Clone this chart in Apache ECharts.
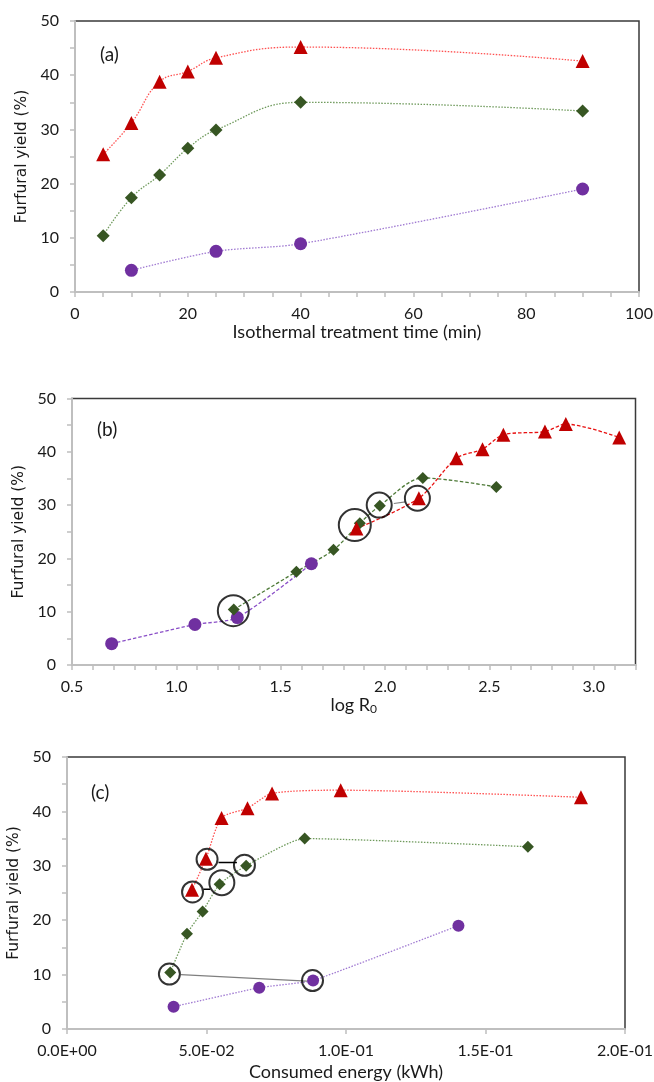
<!DOCTYPE html>
<html>
<head>
<meta charset="utf-8">
<script src="https://cdn.jsdelivr.net/npm/echarts@6/dist/echarts.min.js"></script>
<style>
html,body{margin:0;padding:0;background:#fff;}
#c{width:654px;height:1082px;}
</style>
</head>
<body>
<div id="c"></div>
<script>
// ---------- DATA ----------
// Panel (a): isothermal treatment time (min) vs furfural yield (%)
const timeA = [5, 10, 15, 20, 25, 40, 90];
const yieldRedA = [25.4, 31.2, 38.8, 40.7, 43.2, 45.2, 42.6];
const yieldGreenA = [10.4, 17.4, 21.6, 26.5, 29.9, 35.0, 33.4];
const timePurpleA = [10, 25, 40, 90];
const yieldPurpleA = [4.0, 7.5, 8.9, 19.0];

// Panel (b): log R0 vs furfural yield (%)
const logR0Purple = [0.69, 1.089, 1.292, 1.647];
const yieldPurpleB = [4.0, 7.6, 8.9, 19.0];
const logR0Green = [1.275, 1.575, 1.753, 1.879, 1.975, 2.181, 2.533];
const yieldGreenB = [10.4, 17.5, 21.6, 26.6, 29.9, 35.1, 33.4];
const logR0Red = [1.863, 2.162, 2.342, 2.467, 2.567, 2.766, 2.866, 3.122];
const yieldRedB = [25.6, 31.3, 38.8, 40.5, 43.2, 43.8, 45.2, 42.7];
// highlighted points (b)
const circleXB = [1.273, 1.855, 1.972, 2.155];
const circleYB = [10.2, 26.25, 30.0, 31.3];
const linkB = [[[2.042, 30.3], [2.098, 30.6]]];

// Panel (c): consumed energy (kWh) vs furfural yield (%)
const energyRed = [0.0448, 0.0498, 0.0554, 0.0647, 0.0735, 0.0981, 0.1842];
const yieldRedC = [25.6, 31.3, 38.8, 40.6, 43.3, 43.9, 42.6];
const energyGreen = [0.0370, 0.0430, 0.0486, 0.0547, 0.0642, 0.0852, 0.1652];
const yieldGreenC = [10.4, 17.5, 21.6, 26.6, 30.0, 35.0, 33.5];
const energyPurple = [0.0382, 0.0689, 0.0882, 0.1403];
const yieldPurpleC = [4.1, 7.6, 8.9, 19.0];
// highlighted points (c)
const circleXC = [0.0502, 0.0636, 0.0450, 0.0555, 0.0367, 0.0880];
const circleYC = [31.2, 30.1, 25.2, 26.9, 10.1, 8.9];
const linkCBlack = [[[0.0543, 30.6], [0.0609, 30.6]], [[0.0489, 25.7], [0.0513, 25.7]]];
const linkCGrey = [[[0.0408, 10.0], [0.0860, 8.8]]];

// axis tick labels
const yLabelStep = 10;
const xLabelStepA = 20;
const xLabelStepB = 0.5;

// ---------- STYLE ----------
const RED = '#C00000', GREEN = '#375623', PURPLE = '#7030A0';
const RED_L = '#FF5050', GREEN_L = '#6F9A5C', PURPLE_L = '#A07AD2';
const AXIS_GREY = '#BFBFBF';
const TXT = '#1a1a1a';
const circleSizeB = [31, 32, 25, 25];
const circleSizeC = [21, 21, 21, 25, 21, 21];

const zip = (xs, ys) => xs.map((x, i) => [x, ys[i]]);
const isMult = (v, s) => Math.abs(v / s - Math.round(v / s)) < 1e-6;

function sci(v) {
  const s = Number(v).toExponential(1).split('e');
  const e = parseInt(s[1], 10);
  const sign = e < 0 ? '-' : '+';
  const a = Math.abs(e);
  return s[0] + 'E' + sign + (a < 10 ? '0' + a : '' + a);
}

function yAx(gi, gap) {
  return {
    type: 'value', gridIndex: gi, min: 0, max: 50, interval: 5,
    name: 'Furfural yield (%)', nameLocation: 'middle', nameGap: gap, nameRotate: 90,
    nameTextStyle: {fontFamily: 'DejaVu Sans', fontSize: 15.5, color: TXT},
    axisLine: {show: true, lineStyle: {color: AXIS_GREY, width: 2}},
    axisTick: {show: true, length: 5, inside: false, lineStyle: {color: AXIS_GREY, width: 1.5}},
    splitLine: {show: false},
    axisLabel: {
      margin: 16, fontFamily: 'Lato', fontSize: 16, color: TXT,
      formatter: v => isMult(v, yLabelStep) ? String(Math.round(v)) : ''
    }
  };
}

function xAxBase(gi) {
  return {
    type: 'value', gridIndex: gi, nameLocation: 'middle',
    nameTextStyle: {fontFamily: 'Lato', fontSize: 18, color: TXT},
    axisLine: {show: true, onZero: false, lineStyle: {color: AXIS_GREY, width: 2}},
    axisTick: {show: true, length: 5, lineStyle: {color: AXIS_GREY, width: 1.5}},
    splitLine: {show: false},
    axisLabel: {margin: 14, fontFamily: 'Lato', fontSize: 16, color: TXT, showMaxLabel: true, showMinLabel: true}
  };
}

const xA = Object.assign(xAxBase(0), {
  min: 0, max: 100, interval: 5, name: 'Isothermal treatment time (min)', nameGap: 27
});
xA.axisLabel.formatter = v => isMult(v, xLabelStepA) ? String(Math.round(v)) : '';

const xB = Object.assign(xAxBase(1), {
  min: 0.5, max: 3.2, interval: 0.1, name: '{a|log R}{s|0}', nameGap: 23
});
xB.nameTextStyle = {
  fontFamily: 'Lato', fontSize: 18, color: TXT,
  rich: {a: {fontFamily: 'Lato', fontSize: 18, color: TXT}, s: {fontFamily: 'Lato', fontSize: 12, color: TXT, verticalAlign: 'bottom', padding: [8, 0, 0, 0]}}
};
xB.axisLabel.formatter = v => isMult(v, xLabelStepB) ? v.toFixed(1) : '';

const xC = Object.assign(xAxBase(2), {
  min: 0, max: 0.2, interval: 0.05, name: 'Consumed energy (kWh)', nameGap: 34
});
xC.axisLabel.formatter = v => sci(v);

function lineSeries(xi, data, lineColor, markColor, symbol, size, dash, smooth, width) {
  return {
    type: 'line', xAxisIndex: xi, yAxisIndex: xi, data: data,
    smooth: smooth, symbol: symbol, symbolSize: size, showSymbol: true,
    lineStyle: {color: lineColor, width: width || 1.3, type: dash},
    itemStyle: {color: markColor, borderWidth: 0},
    z: 3, silent: true, animation: false
  };
}

function ringSeries(xi, xs, ys, sizes) {
  return {
    type: 'scatter', xAxisIndex: xi, yAxisIndex: xi,
    data: xs.map((x, i) => ({value: [x, ys[i]], symbolSize: sizes[i]})),
    symbol: 'circle',
    itemStyle: {color: 'rgba(0,0,0,0)', borderColor: '#000', borderWidth: 2},
    z: 5, silent: true, animation: false
  };
}

function linkSeries(xi, seg, color, w) {
  return {
    type: 'line', xAxisIndex: xi, yAxisIndex: xi, data: seg,
    symbol: 'none', lineStyle: {color: color, width: w}, z: 4, silent: true, animation: false
  };
}

const DOT = [1.5, 1.5];
const DASH = [3.5, 2];

const series = [
  // (a)
  lineSeries(0, zip(timeA, yieldRedA), RED_L, RED, 'triangle', 14, DOT, 0.45),
  lineSeries(0, zip(timeA, yieldGreenA), GREEN_L, GREEN, 'diamond', 13, DOT, 0.45),
  lineSeries(0, zip(timePurpleA, yieldPurpleA), PURPLE_L, PURPLE, 'circle', 13, DOT, 0.3),
  // (b)
  lineSeries(1, zip(logR0Purple, yieldPurpleB), '#8A4FC7', PURPLE, 'circle', 13, DASH, 0.25),
  lineSeries(1, zip(logR0Green, yieldGreenB), '#4E7A38', GREEN, 'diamond', 12, DASH, 0.3),
  lineSeries(1, zip(logR0Red, yieldRedB), '#E81010', RED, 'triangle', 14, DASH, 0.3),
  ringSeries(1, circleXB, circleYB, circleSizeB),
  linkSeries(1, linkB[0], '#808080', 1.2),
  // (c)
  lineSeries(2, zip(energyRed, yieldRedC), RED_L, RED, 'triangle', 14, DOT, 0.25),
  lineSeries(2, zip(energyGreen, yieldGreenC), GREEN_L, GREEN, 'diamond', 12, DOT, 0.2),
  lineSeries(2, zip(energyPurple, yieldPurpleC), PURPLE_L, PURPLE, 'circle', 12, DOT, 0.1),
  ringSeries(2, circleXC, circleYC, circleSizeC),
  linkSeries(2, linkCBlack[0], '#000', 1.5),
  linkSeries(2, linkCBlack[1], '#000', 1.5),
  linkSeries(2, linkCGrey[0], '#7f7f7f', 1.3)
];

const gridBase = {show: true, borderColor: '#3a3a3a', borderWidth: 1.5, backgroundColor: '#fff', containLabel: false, outerBoundsMode: 'none'};

const option = {
  animation: false,
  backgroundColor: '#fff',
  grid: [
    Object.assign({left: 75, right: 15, top: 21, height: 271}, gridBase),
    Object.assign({left: 72, right: 18.5, top: 398.5, height: 266.5}, gridBase),
    Object.assign({left: 67, right: 29, top: 757, height: 272}, gridBase)
  ],
  xAxis: [xA, xB, xC],
  yAxis: [yAx(0, 42), yAx(1, 42), yAx(2, 35)],
  graphic: [
    {type: 'text', left: 100, top: 45, style: {text: '(a)', fontFamily: 'Lato', fontSize: 19, fill: TXT}},
    {type: 'text', left: 97, top: 420, style: {text: '(b)', fontFamily: 'Lato', fontSize: 19, fill: TXT}},
    {type: 'text', left: 91, top: 783, style: {text: '(c)', fontFamily: 'Lato', fontSize: 19, fill: TXT}}
  ],
  series: series
};

const chart = echarts.init(document.getElementById('c'), null, {renderer: 'canvas'});
chart.setOption(option);
</script>
</body>
</html>
